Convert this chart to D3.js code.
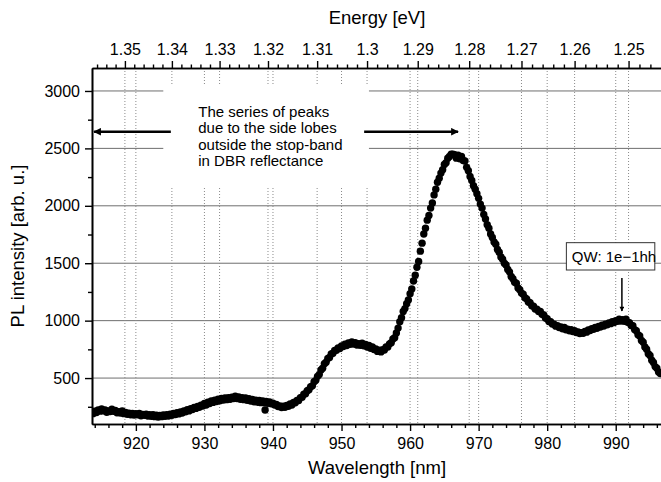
<!DOCTYPE html>
<html>
<head>
<meta charset="utf-8">
<script src="https://cdn.jsdelivr.net/npm/d3@7"></script>
<style>
body { margin: 0; background: #fff; }
svg text { font-family: "Liberation Sans", Arial, sans-serif; fill: #000; }
</style>
</head>
<body>
<svg id="chart" width="661" height="482"></svg>
<script>
// PL spectrum (0.25 nm steps)
var wavelength = [
  913.75, 914.00, 914.25, 914.50, 914.75, 915.00, 915.25, 915.50, 915.75, 916.00, 916.25, 916.50, 916.75, 917.00, 917.25, 917.50,
  917.75, 918.00, 918.25, 918.50, 918.75, 919.00, 919.25, 919.50, 919.75, 920.00, 920.25, 920.50, 920.75, 921.00, 921.25, 921.50,
  921.75, 922.00, 922.25, 922.50, 922.75, 923.00, 923.25, 923.50, 923.75, 924.00, 924.25, 924.50, 924.75, 925.00, 925.25, 925.50,
  925.75, 926.00, 926.25, 926.50, 926.75, 927.00, 927.25, 927.50, 927.75, 928.00, 928.25, 928.50, 928.75, 929.00, 929.25, 929.50,
  929.75, 930.00, 930.25, 930.50, 930.75, 931.00, 931.25, 931.50, 931.75, 932.00, 932.25, 932.50, 932.75, 933.00, 933.25, 933.50,
  933.75, 934.00, 934.25, 934.50, 934.75, 935.00, 935.25, 935.50, 935.75, 936.00, 936.25, 936.50, 936.75, 937.00, 937.25, 937.50,
  937.75, 938.00, 938.25, 938.50, 938.75, 938.85, 939.00, 939.25, 939.50, 939.75, 940.00, 940.25, 940.50, 940.75, 941.00, 941.25,
  941.50, 941.75, 942.00, 942.25, 942.50, 942.75, 943.00, 943.25, 943.50, 943.75, 944.00, 944.25, 944.50, 944.75, 945.00, 945.25,
  945.50, 945.75, 946.00, 946.25, 946.50, 946.75, 947.00, 947.25, 947.50, 947.75, 948.00, 948.25, 948.50, 948.75, 949.00, 949.25,
  949.50, 949.75, 950.00, 950.25, 950.50, 950.75, 951.00, 951.25, 951.50, 951.75, 952.00, 952.25, 952.50, 952.75, 953.00, 953.25,
  953.50, 953.75, 954.00, 954.25, 954.50, 954.75, 955.00, 955.25, 955.50, 955.75, 956.00, 956.25, 956.50, 956.75, 957.00, 957.25,
  957.50, 957.75, 958.00, 958.25, 958.50, 958.75, 959.00, 959.25, 959.50, 959.75, 960.00, 960.25, 960.50, 960.75, 961.00, 961.25,
  961.50, 961.75, 962.00, 962.25, 962.50, 962.75, 963.00, 963.25, 963.50, 963.75, 964.00, 964.25, 964.50, 964.75, 965.00, 965.25,
  965.50, 965.75, 966.00, 966.25, 966.50, 966.75, 967.00, 967.25, 967.50, 967.75, 968.00, 968.25, 968.50, 968.75, 969.00, 969.25,
  969.50, 969.75, 970.00, 970.25, 970.50, 970.75, 971.00, 971.25, 971.50, 971.75, 972.00, 972.25, 972.50, 972.75, 973.00, 973.25,
  973.50, 973.75, 974.00, 974.25, 974.50, 974.75, 975.00, 975.25, 975.50, 975.75, 976.00, 976.25, 976.50, 976.75, 977.00, 977.25,
  977.50, 977.75, 978.00, 978.25, 978.50, 978.75, 979.00, 979.25, 979.50, 979.75, 980.00, 980.25, 980.50, 980.75, 981.00, 981.25,
  981.50, 981.75, 982.00, 982.25, 982.50, 982.75, 983.00, 983.25, 983.50, 983.75, 984.00, 984.25, 984.50, 984.75, 985.00, 985.25,
  985.50, 985.75, 986.00, 986.25, 986.50, 986.75, 987.00, 987.25, 987.50, 987.75, 988.00, 988.25, 988.50, 988.75, 989.00, 989.25,
  989.50, 989.75, 990.00, 990.25, 990.50, 990.75, 991.00, 991.25, 991.50, 991.75, 992.00, 992.25, 992.50, 992.75, 993.00, 993.25,
  993.50, 993.75, 994.00, 994.25, 994.50, 994.75, 995.00, 995.25, 995.50, 995.75, 996.00, 996.25, 996.50]
var intensity = [
  190, 212, 200, 222, 212, 232, 214, 222, 202, 214, 208, 228, 210, 218, 198, 208,
  196, 214, 190, 200, 184, 194, 180, 192, 178, 190, 180, 192, 172, 184, 176, 186,
  170, 182, 168, 180, 164, 176, 160, 174, 164, 178, 168, 182, 170, 186, 176, 192,
  182, 198, 188, 206, 196, 214, 206, 224, 214, 234, 226, 244, 236, 252, 246, 264,
  256, 278, 266, 290, 278, 300, 288, 308, 296, 316, 302, 322, 308, 326, 312, 330,
  316, 334, 322, 342, 322, 336, 316, 330, 312, 326, 306, 320, 300, 314, 294, 308,
  290, 304, 286, 300, 284, 222, 296, 280, 292, 276, 282, 266, 270, 252, 258, 244,
  254, 246, 262, 254, 274, 266, 288, 284, 306, 304, 330, 334, 360, 364, 390, 398,
  425, 432, 468, 480, 515, 530, 570, 585, 625, 638, 670, 680, 710, 716, 740, 742,
  762, 758, 780, 774, 795, 784, 806, 794, 815, 796, 808, 788, 800, 786, 804, 782,
  792, 770, 785, 760, 772, 748, 754, 732, 742, 728, 748, 744, 770, 770, 798, 808,
  840, 852, 892, 935, 990, 1025, 1080, 1105, 1148, 1180, 1235, 1275, 1345, 1395, 1465, 1515,
  1605, 1675, 1755, 1805, 1875, 1915, 1980, 2025, 2095, 2145, 2205, 2240, 2285, 2315, 2360, 2375,
  2415, 2430, 2450, 2450, 2445, 2415, 2440, 2410, 2430, 2395, 2390, 2335, 2305, 2255, 2220, 2175,
  2145, 2105, 2065, 2015, 1980, 1925, 1885, 1835, 1805, 1755, 1725, 1685, 1665, 1620, 1595, 1555,
  1535, 1500, 1485, 1445, 1425, 1385, 1365, 1335, 1325, 1285, 1270, 1240, 1230, 1200, 1190, 1162,
  1156, 1130, 1126, 1102, 1100, 1080, 1080, 1055, 1050, 1022, 1016, 992, 990, 970, 970, 952,
  956, 940, 946, 930, 940, 920, 926, 912, 922, 906, 912, 896, 902, 888, 896, 890,
  906, 900, 920, 914, 930, 924, 940, 934, 950, 944, 960, 954, 970, 964, 980, 974,
  990, 984, 1000, 994, 1012, 996, 1008, 994, 1012, 985, 982, 958, 956, 922, 912, 878,
  866, 828, 812, 770, 752, 712, 696, 655, 636, 600, 586, 552, 540]

var waveTicks = [920, 930, 940, 950, 960, 970, 980, 990]
var energyTicks = [1.35, 1.34, 1.33, 1.32, 1.31, 1.3, 1.29, 1.28, 1.27, 1.26, 1.25]
var yTicks = [500, 1000, 1500, 2000, 2500, 3000]
var boxLines = ['The series of peaks', 'due to the side lobes', 'outside the stop-band', 'in DBR reflectance']
var qwLabel = 'QW: 1e\u22121hh'

var HC = 1239.84
var toWave = function (e) { return HC / e }

var svg = d3.select('#chart')
var x0 = 92, x1 = 662, y0 = 68, y1 = 424

var x = d3.scaleLinear().domain([913.6, 996.75]).range([x0, x1])
var y = d3.scaleLinear().domain([100, 3200]).range([y1, y0])

svg.append('defs').append('clipPath').attr('id', 'plot')
   .append('rect').attr('x', x0).attr('y', y0).attr('width', x1 - x0).attr('height', y1 - y0)

var mk = svg.select('defs').append('marker')
   .attr('id', 'head').attr('viewBox', '0 0 10 10')
   .attr('refX', 9).attr('refY', 5)
   .attr('markerWidth', 5).attr('markerHeight', 3.2)
   .attr('markerUnits', 'strokeWidth')
   .attr('orient', 'auto')
mk.append('path').attr('d', 'M0,0 L10,5 L0,10 Z').attr('fill', '#000')

// horizontal grid
svg.append('g').selectAll('line')
   .data(yTicks).enter().append('line')
   .attr('x1', x0).attr('x2', x1)
   .attr('y1', d => y(d)).attr('y2', d => y(d))
   .attr('stroke', '#6e6e6e').attr('stroke-width', 1)

// dotted vertical grid, from both axes
var vgrid = waveTicks.concat(energyTicks.map(toWave))
svg.append('g').selectAll('line')
   .data(vgrid).enter().append('line')
   .attr('x1', d => x(d)).attr('x2', d => x(d))
   .attr('y1', y0).attr('y2', y1)
   .attr('stroke', '#8a8a8a').attr('stroke-width', 1)
   .attr('stroke-dasharray', '1,2')

// text box
svg.append('rect')
   .attr('x', x(924.0)).attr('y', y(3052))
   .attr('width', x(954.0) - x(924.0)).attr('height', y(2172) - y(3052))
   .attr('fill', '#fff')

svg.append('g').selectAll('text')
   .data(boxLines).enter().append('text')
   .attr('x', x(929.1))
   .attr('y', (d, i) => 116.5 + i * 16.5)
   .attr('font-size', 15)
   .text(d => d)

svg.append('line')
   .attr('x1', x(925.1)).attr('x2', x(913.9))
   .attr('y1', y(2645)).attr('y2', y(2645))
   .attr('stroke', '#000').attr('stroke-width', 2.4)
   .attr('marker-end', 'url(#head)')
svg.append('line')
   .attr('x1', x(953.3)).attr('x2', x(967.0))
   .attr('y1', y(2645)).attr('y2', y(2645))
   .attr('stroke', '#000').attr('stroke-width', 2.4)
   .attr('marker-end', 'url(#head)')

// data
svg.append('g').attr('clip-path', 'url(#plot)')
   .selectAll('circle')
   .data(wavelength).enter().append('circle')
   .attr('cx', d => x(d))
   .attr('cy', (d, i) => y(intensity[i]))
   .attr('r', 3.7)
   .attr('fill', '#000')

// QW label
svg.append('rect')
   .attr('x', x(982.8)).attr('y', y(1679))
   .attr('width', x(995.7) - x(982.8)).attr('height', y(1441) - y(1679))
   .attr('fill', '#fff').attr('stroke', '#333').attr('stroke-width', 1)
svg.append('text')
   .attr('x', x(983.6)).attr('y', 262)
   .attr('font-size', 15)
   .text(qwLabel)
svg.append('line')
   .attr('x1', x(990.9)).attr('x2', x(990.9))
   .attr('y1', y(1371)).attr('y2', y(1084))
   .attr('stroke', '#000').attr('stroke-width', 1.5)
   .attr('marker-end', 'url(#head)')

// axes
var styleAxis = function (g) {
  g.attr('font-family', null).attr('font-size', null)
  g.select('.domain').attr('stroke-width', 1.6)
  g.selectAll('.tick line').attr('stroke-width', 1.4)
  g.selectAll('.tick text').attr('font-size', 16)
}

var waveMinor = d3.range(914, 997, 2).filter(d => waveTicks.indexOf(d) < 0)
svg.append('g').attr('transform', 'translate(0,' + y1 + ')')
   .call(d3.axisBottom(x).tickValues(waveMinor).tickSize(4).tickSizeOuter(0).tickFormat(''))
   .call(styleAxis)
svg.append('g').attr('transform', 'translate(0,' + y1 + ')')
   .call(d3.axisBottom(x).tickValues(waveTicks).tickSize(7).tickSizeOuter(0).tickPadding(7).tickFormat(d3.format('d')))
   .call(styleAxis)

var eMinor = d3.range(1244, 1358, 2).map(d => d / 1000)
   .filter(d => Math.round(d * 1000) % 10 != 0)
svg.append('g').attr('transform', 'translate(0,' + y0 + ')')
   .call(d3.axisTop(x).tickValues(eMinor.map(toWave)).tickSize(3.5).tickSizeOuter(0).tickFormat(''))
   .call(styleAxis)
svg.append('g').attr('transform', 'translate(0,' + y0 + ')')
   .call(d3.axisTop(x).tickValues(energyTicks.map(toWave)).tickSize(7).tickSizeOuter(0).tickPadding(6)
      .tickFormat(d => d3.format('')(+(HC / d).toFixed(2))))
   .call(styleAxis)

var yMinor = d3.range(250, 3200, 500)
svg.append('g').attr('transform', 'translate(' + x0 + ',0)')
   .call(d3.axisLeft(y).tickValues(yMinor).tickSize(4).tickSizeOuter(0).tickFormat(''))
   .call(styleAxis)
svg.append('g').attr('transform', 'translate(' + x0 + ',0)')
   .call(d3.axisLeft(y).tickValues(yTicks).tickSize(7).tickSizeOuter(0).tickPadding(5).tickFormat(d3.format('d')))
   .call(styleAxis)

// titles
svg.append('text').attr('x', (x0 + x1) / 2).attr('y', 474)
   .attr('text-anchor', 'middle').attr('font-size', 18.5)
   .text('Wavelength [nm]')
svg.append('text').attr('x', (x0 + x1) / 2).attr('y', 24)
   .attr('text-anchor', 'middle').attr('font-size', 18.5)
   .text('Energy [eV]')
svg.append('text')
   .attr('transform', 'translate(24,' + ((y0 + y1) / 2) + ') rotate(-90)')
   .attr('text-anchor', 'middle').attr('font-size', 18.5)
   .text('PL intensity [arb. u.]')
</script>
</body>
</html>
